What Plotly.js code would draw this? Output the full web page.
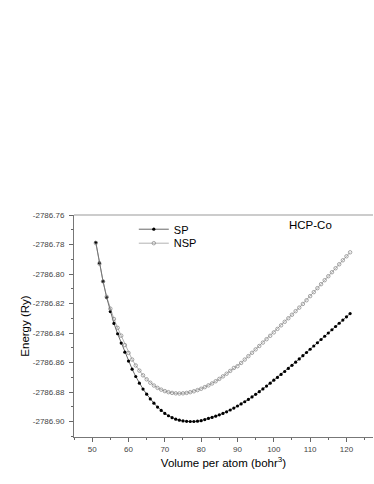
<!DOCTYPE html>
<html>
<head>
<meta charset="utf-8">
<script src="https://cdn.plot.ly/plotly-3.0.1.min.js"></script>
<style>
  html, body { margin: 0; padding: 0; background: #fff; }
  #graph { width: 374px; height: 484px; }
</style>
</head>
<body>
<div id="graph"></div>
<script>
// volume per atom (bohr^3), one point every bohr^3
const volume = [
    51, 52, 53, 54, 55, 56, 57, 58, 59, 60,
    61, 62, 63, 64, 65, 66, 67, 68, 69, 70,
    71, 72, 73, 74, 75, 76, 77, 78, 79, 80,
    81, 82, 83, 84, 85, 86, 87, 88, 89, 90,
    91, 92, 93, 94, 95, 96, 97, 98, 99, 100,
    101, 102, 103, 104, 105, 106, 107, 108, 109, 110,
    111, 112, 113, 114, 115, 116, 117, 118, 119, 120,
    121
];

// spin polarized energies (Ry)
const energySP = [
    -2786.7785, -2786.7925, -2786.8050, -2786.8160, -2786.8255, -2786.8335, -2786.8405, -2786.8468, -2786.8530, -2786.8590,
    -2786.8645, -2786.8695, -2786.8740, -2786.8780, -2786.8815, -2786.8847, -2786.8876, -2786.8902, -2786.8925, -2786.8945,
    -2786.8961, -2786.8974, -2786.8984, -2786.8991, -2786.8996, -2786.8999, -2786.9000, -2786.9000, -2786.8998, -2786.8994,
    -2786.8987, -2786.8979, -2786.8972, -2786.8964, -2786.8955, -2786.8945, -2786.8934, -2786.8922, -2786.8909, -2786.8895,
    -2786.8881, -2786.8866, -2786.8850, -2786.8833, -2786.8816, -2786.8798, -2786.8779, -2786.8760, -2786.8740, -2786.8720,
    -2786.8701, -2786.8681, -2786.8661, -2786.8640, -2786.8619, -2786.8598, -2786.8576, -2786.8554, -2786.8532, -2786.8510,
    -2786.8488, -2786.8466, -2786.8444, -2786.8422, -2786.8400, -2786.8378, -2786.8356, -2786.8334, -2786.8312, -2786.8290,
    -2786.8268
];

// non spin polarized energies (Ry)
const energyNSP = [
    -2786.7790, -2786.7930, -2786.8050, -2786.8155, -2786.8235, -2786.8305, -2786.8365, -2786.8418, -2786.8482, -2786.8535,
    -2786.8580, -2786.8620, -2786.8655, -2786.8687, -2786.8714, -2786.8737, -2786.8756, -2786.8772, -2786.8784, -2786.8794,
    -2786.8801, -2786.8806, -2786.8809, -2786.8810, -2786.8809, -2786.8806, -2786.8801, -2786.8795, -2786.8787, -2786.8778,
    -2786.8767, -2786.8755, -2786.8742, -2786.8727, -2786.8711, -2786.8694, -2786.8676, -2786.8657, -2786.8637, -2786.8625,
    -2786.8603, -2786.8580, -2786.8557, -2786.8534, -2786.8511, -2786.8488, -2786.8465, -2786.8442, -2786.8419, -2786.8396,
    -2786.8372, -2786.8348, -2786.8324, -2786.8300, -2786.8276, -2786.8252, -2786.8228, -2786.8203, -2786.8178, -2786.8150,
    -2786.8123, -2786.8096, -2786.8069, -2786.8042, -2786.8015, -2786.7988, -2786.7961, -2786.7934, -2786.7907, -2786.7880,
    -2786.7853
];

// y tick labels, drawn with a plain hyphen like the original
const energyTicks = [-2786.76, -2786.78, -2786.80, -2786.82, -2786.84, -2786.86, -2786.88, -2786.90];
const energyTickText = ['-2786.76', '-2786.78', '-2786.80', '-2786.82', '-2786.84', '-2786.86', '-2786.88', '-2786.90'];

const seriesNames = ['SP', 'NSP'];
const panelLabel = 'HCP-Co';

const font = 'Arial, "Liberation Sans", sans-serif';

const spTrace = {
    x: volume,
    y: energySP,
    mode: 'lines+markers',
    name: seriesNames[0],
    legend: 'legend',
    line: {color: '#000000', width: 0.6},
    marker: {symbol: 'circle', size: 3.2, color: '#000000'},
};

const nspTrace = {
    x: volume,
    y: energyNSP,
    mode: 'lines+markers',
    name: seriesNames[1],
    legend: 'legend2',
    line: {color: '#808080', width: 0.6},
    marker: {symbol: 'circle-open', size: 3.5, color: '#808080', line: {width: 0.7}},
};

// one legend per series so the rows can sit as close as in the original
const legendStyle = {
    xanchor: 'left',
    yanchor: 'middle',
    bgcolor: 'rgba(0,0,0,0)',
    font: {size: 11, family: font, color: '#000000'},
    itemwidth: 30,
};

const layout = {
    width: 374,
    height: 484,
    paper_bgcolor: '#ffffff',
    plot_bgcolor: '#ffffff',
    margin: {l: 74, r: 1, t: 215, b: 47},
    font: {family: font, color: '#000000'},
    showlegend: true,
    legend: Object.assign({x: 0.2, y: 0.936}, legendStyle),
    legend2: Object.assign({x: 0.2, y: 0.873}, legendStyle),
    xaxis: {
        range: [45, 127.3],
        tick0: 50,
        dtick: 10,
        ticks: 'outside',
        ticklen: 4,
        tickcolor: '#666666',
        tickfont: {size: 8, color: '#444444'},
        showline: true,
        linecolor: '#777777',
        linewidth: 1,
        showgrid: false,
        zeroline: false,
        minor: {dtick: 5, tick0: 45, ticks: 'outside', ticklen: 2, tickcolor: '#666666'},
        title: {
            text: 'Volume per atom (bohr<sup>3</sup>)',
            font: {size: 11.5, family: font},
            standoff: 6,
        },
    },
    yaxis: {
        range: [-2786.9105, -2786.76],
        tickmode: 'array',
        tickvals: energyTicks,
        ticktext: energyTickText,
        ticks: 'outside',
        ticklen: 4,
        tickcolor: '#666666',
        tickfont: {size: 8, color: '#444444'},
        ticklabelstandoff: 3,
        showline: true,
        linecolor: '#777777',
        linewidth: 1,
        showgrid: false,
        zeroline: false,
        minor: {tickmode: 'linear', tick0: -2786.76, dtick: 0.01, ticks: 'outside', ticklen: 2, tickcolor: '#666666'},
        title: {
            text: 'Energy (Ry)',
            font: {size: 11.5, family: font},
            standoff: 0,
        },
    },
    shapes: [
        {
            type: 'line', xref: 'paper', yref: 'paper',
            x0: 0, x1: 1, y0: 1, y1: 1,
            line: {color: '#999999', width: 1},
        },
    ],
    annotations: [
        {
            text: panelLabel,
            xref: 'paper', yref: 'paper',
            x: 0.79, y: 0.955,
            xanchor: 'center', yanchor: 'middle',
            showarrow: false,
            font: {size: 11.5, family: font},
        },
    ],
};

const config = {
    displayModeBar: false,
    responsive: false,
};

Plotly.newPlot('graph', [spTrace, nspTrace], layout, config);
</script>
</body>
</html>
